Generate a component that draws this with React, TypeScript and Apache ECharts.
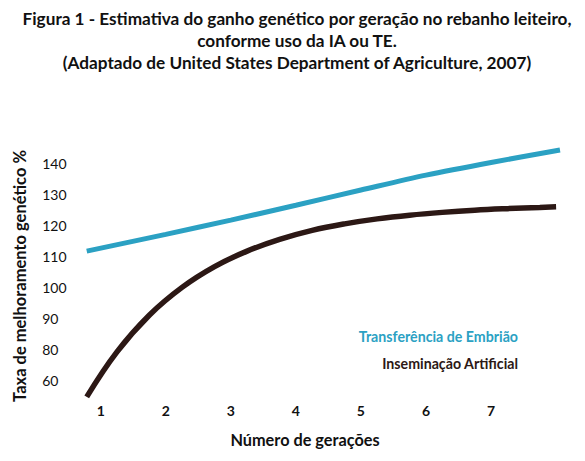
import React, { useEffect, useRef } from "react";
import * as echarts from "echarts";

const titleLines = [
  "Figura 1 - Estimativa do ganho genético por geração no rebanho leiteiro,",
  "conforme uso da IA ou TE.",
  "(Adaptado de United States Department of Agriculture, 2007)",
];
const xAxisName = "Número de gerações";
const yAxisName = "Taxa de melhoramento genético %";
const xTickValues = [1, 2, 3, 4, 5, 6, 7];
const xTickLabels = ["1", "2", "3", "4", "5", "6", "7"];
// label positions on the vertical scale and the texts printed there
const yTickValues = [70, 80, 90, 100, 110, 120, 130, 140];
const yTickLabels = ["60", "80", "90", "100", "110", "120", "130", "140"];

const teName = "Transferência de Embrião";
const iaName = "Inseminação Artificial";
const teX = [0.785, 2, 3, 4, 5, 6, 7, 8.06];
const teY = [111.8, 117.2, 121.8, 126.6, 131.5, 136.3, 140.4, 144.4];
const iaX = [0.785, 1.25, 1.75, 2.25, 2.75, 3.25, 3.75, 4.25, 4.75, 5.25, 5.75, 6.25, 6.75, 7.25, 7.75, 8.0];
const iaY = [64.8, 79.3, 91.2, 100.1, 106.8, 111.8, 115.6, 118.5, 120.6, 122.2, 123.4, 124.3, 125.0, 125.5, 125.9, 126.1];

const BLUE = "#2ba1c3";
const DARK = "#2c1815";

export default function App() {
  const ref = useRef<HTMLDivElement>(null);
  useEffect(() => {
    if (!ref.current) return;
    const chart = echarts.init(ref.current, null, { renderer: "svg" });
    const font = "Lato, 'Open Sans', sans-serif";
    chart.setOption({
      animation: false,
      backgroundColor: "#ffffff",
      grid: { left: 81.2, right: 22.4, top: 132.7, bottom: 49.3 },
      xAxis: {
        type: "value",
        min: 0.7,
        max: 8.1,
        axisLine: { show: false },
        axisTick: { show: false },
        splitLine: { show: false },
        axisLabel: {
          customValues: xTickValues,
          margin: -8,
          color: "#111",
          fontFamily: font,
          fontSize: 14,
          fontWeight: "bold",
          formatter: (v: number) => {
            const i = xTickValues.indexOf(Math.round(v));
            return i >= 0 ? xTickLabels[i] : "";
          },
        },
      },
      yAxis: {
        type: "value",
        min: 60,
        max: 150,
        axisLine: { show: false },
        axisTick: { show: false },
        splitLine: { show: false },
        axisLabel: {
          customValues: yTickValues,
          align: "left",
          margin: 39,
          color: "#111",
          fontFamily: font,
          fontSize: 14,
          formatter: (v: number) => {
            const i = yTickValues.indexOf(Math.round(v));
            return i >= 0 ? yTickLabels[i] : "";
          },
        },
      },
      series: [
        {
          name: teName,
          type: "line",
          smooth: 0.3,
          showSymbol: false,
          lineStyle: { color: BLUE, width: 5, cap: "butt" },
          data: teX.map((x, i) => [x, teY[i]]),
        },
        {
          name: iaName,
          type: "line",
          smooth: 0.4,
          showSymbol: false,
          lineStyle: { color: DARK, width: 5.5, cap: "butt" },
          data: iaX.map((x, i) => [x, iaY[i]]),
        },
      ],
      graphic: [
        ...titleLines.map((t, i) => ({
          type: "text",
          x: 297,
          y: 18 + i * 22,
          style: {
            text: t,
            fontFamily: font,
            fontWeight: "bold",
            fontSize: 17.2,
            fill: "#111",
            align: "center",
            verticalAlign: "middle",
          },
        })),
        {
          type: "text",
          x: 305,
          y: 439,
          style: {
            text: xAxisName,
            fontFamily: font,
            fontWeight: "bold",
            fontSize: 16.3,
            fill: "#111",
            align: "center",
            verticalAlign: "middle",
          },
        },
        {
          type: "text",
          x: 20,
          y: 276,
          rotation: Math.PI / 2,
          style: {
            text: yAxisName,
            fontFamily: font,
            fontWeight: "bold",
            fontSize: 16.5,
            fill: "#111",
            align: "center",
            verticalAlign: "middle",
          },
        },
        {
          type: "text",
          x: 518,
          y: 336,
          style: {
            text: teName,
            fontFamily: font,
            fontWeight: "bold",
            fontSize: 14.2,
            fill: BLUE,
            align: "right",
            verticalAlign: "middle",
          },
        },
        {
          type: "text",
          x: 518,
          y: 363,
          style: {
            text: iaName,
            fontFamily: font,
            fontWeight: "bold",
            fontSize: 14.2,
            fill: DARK,
            align: "right",
            verticalAlign: "middle",
          },
        },
      ],
    });
    return () => chart.dispose();
  }, []);
  return <div ref={ref} style={{ width: 585, height: 461, position: "absolute", left: 0, top: 0 }} />;
}
